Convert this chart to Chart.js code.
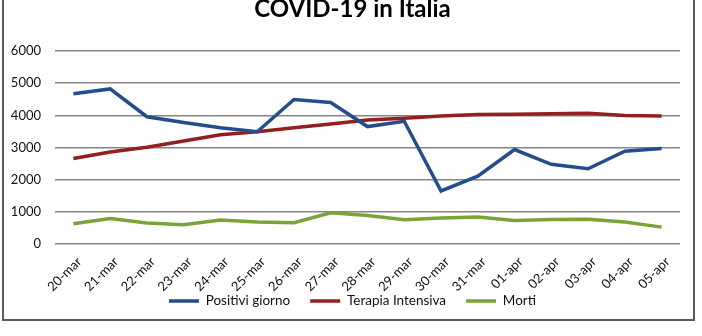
<!DOCTYPE html>
<html>
<head>
<meta charset="utf-8">
<script src="https://cdn.jsdelivr.net/npm/chart.js@4/dist/chart.umd.min.js"></script>
<style>
  html, body { margin: 0; padding: 0; background: #fff; overflow: hidden; }
  #frame { position: absolute; left: 2px; top: -10px; width: 693px; height: 331px; border: 2px solid #5a5a5a; box-sizing: border-box; }
  #wrap { position: absolute; left: 0; top: 0; width: 702px; height: 336px; }
</style>
</head>
<body>
<div id="frame"></div>
<div id="wrap"><canvas id="c" width="702" height="336"></canvas></div>
<script>
const categories = ['20-mar','21-mar','22-mar','23-mar','24-mar','25-mar','26-mar','27-mar','28-mar','29-mar','30-mar','31-mar','01-apr','02-apr','03-apr','04-apr','05-apr'];
const positiviGiorno = [4670, 4821, 3957, 3780, 3612, 3491, 4492, 4401, 3651, 3815, 1648, 2107, 2937, 2477, 2339, 2886, 2972];
const terapiaIntensiva = [2655, 2857, 3009, 3204, 3396, 3489, 3612, 3732, 3856, 3906, 3981, 4023, 4035, 4053, 4068, 3994, 3977];
const morti = [627, 793, 651, 601, 743, 683, 662, 969, 889, 756, 812, 837, 727, 760, 766, 681, 525];
const yTicks = [0, 1000, 2000, 3000, 4000, 5000, 6000];
const titleText = 'COVID-19 in Italia';

const FONT = 'Lato, "Open Sans", sans-serif';

// let tick labels extend outside their (deliberately small) axis boxes
const noLabelClip = {
  id: 'noLabelClip',
  afterLayout(chart) {
    Object.values(chart.scales).forEach(s => { s._computeLabelArea = function () { return undefined; }; });
  }
};

new Chart(document.getElementById('c'), {
  type: 'line',
  data: {
    labels: categories,
    datasets: [
      { label: 'Positivi giorno', data: positiviGiorno, borderColor: '#234d8b', backgroundColor: '#234d8b', borderWidth: 3.5, pointRadius: 0, tension: 0 },
      { label: 'Terapia Intensiva', data: terapiaIntensiva, borderColor: '#931f1f', backgroundColor: '#931f1f', borderWidth: 3.5, pointRadius: 0, tension: 0 },
      { label: 'Morti', data: morti, borderColor: '#79a43a', backgroundColor: '#79a43a', borderWidth: 3.5, pointRadius: 0, tension: 0 }
    ]
  },
  plugins: [noLabelClip],
  options: {
    responsive: false,
    animation: false,
    layout: { padding: { left: 25, right: 22, top: 0, bottom: 18.25 } },
    plugins: {
      title: {
        display: true,
        text: titleText,
        color: '#000',
        font: { family: FONT, size: 24, weight: 'bold' },
        padding: { top: -5.5, bottom: 27.7 }
      },
      legend: {
        position: 'bottom',
        labels: {
          usePointStyle: true,
          pointStyle: 'line',
          pointStyleWidth: 30,
          color: '#111',
          font: { family: FONT, size: 13.5 },
          padding: 20
        }
      },
      tooltip: { enabled: false }
    },
    scales: {
      x: {
        offset: true,
        grid: { display: false, drawTicks: false },
        border: { display: false },
        ticks: { color: '#111', font: { family: FONT, size: 13 }, minRotation: 45, maxRotation: 45, padding: 10, labelOffset: 6, autoSkip: false },
        afterFit: (s) => { s.height = 30.25; }
      },
      y: {
        min: 0, max: 6000,
        afterBuildTicks: (s) => { s.ticks = yTicks.map(v => ({ value: v })); },
        grid: { color: '#858585', lineWidth: 1.6, drawTicks: false },
        border: { display: false },
        ticks: { color: '#111', font: { family: FONT, size: 13 }, padding: 14, callback: (v) => String(v) },
        afterFit: (s) => { s.width = 30; }
      }
    }
  }
});
</script>
</body>
</html>
